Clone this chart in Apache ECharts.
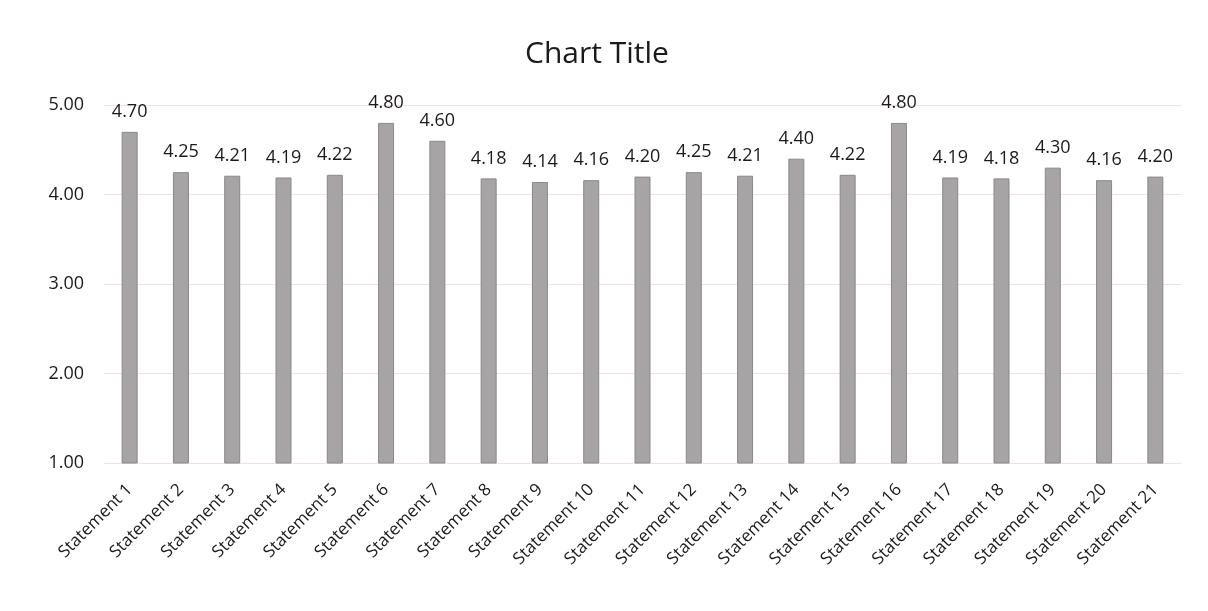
<!DOCTYPE html>
<html>
<head>
<meta charset="utf-8">
<script src="https://cdn.jsdelivr.net/npm/echarts@6/dist/echarts.min.js"></script>
<style>
html,body{margin:0;padding:0;background:#ffffff;}
#chart{width:1208px;height:611px;}
</style>
</head>
<body>
<div id="chart"></div>
<script>
const categories = ["Statement 1","Statement 2","Statement 3","Statement 4","Statement 5","Statement 6","Statement 7","Statement 8","Statement 9","Statement 10","Statement 11","Statement 12","Statement 13","Statement 14","Statement 15","Statement 16","Statement 17","Statement 18","Statement 19","Statement 20","Statement 21"];
const values = [4.70,4.25,4.21,4.19,4.22,4.80,4.60,4.18,4.14,4.16,4.20,4.25,4.21,4.40,4.22,4.80,4.19,4.18,4.30,4.16,4.20];
const yTicks = [1, 2, 3, 4, 5];

const chart = echarts.init(document.getElementById('chart'));
const font = '"Open Sans", "Liberation Sans", sans-serif';
chart.setOption({
  backgroundColor: '#ffffff',
  animation: false,
  title: {
    text: 'Chart Title',
    left: 520,
    top: 34,
    textStyle: {fontFamily: font, fontSize: 30, fontWeight: 'normal', color: '#1a1a1a'}
  },
  grid: {left: 104, right: 27, top: 105, bottom: 148},
  xAxis: {
    type: 'category',
    data: categories,
    axisLine: {show: false},
    axisTick: {show: false},
    axisLabel: {rotate: 45, interval: 0, margin: 24, fontFamily: font, fontSize: 17, color: '#1a1a1a'}
  },
  yAxis: {
    type: 'value',
    min: yTicks[0],
    max: yTicks[yTicks.length - 1],
    interval: 1,
    axisLine: {show: false},
    axisTick: {show: false},
    splitLine: {lineStyle: {color: '#f0e2e2', width: 1}},
    axisLabel: {margin: 20, fontFamily: font, fontSize: 18, color: '#1a1a1a', formatter: v => v.toFixed(2)}
  },
  series: [{
    type: 'bar',
    data: values,
    barWidth: 16,
    itemStyle: {color: '#a6a4a4', borderColor: '#8a8888', borderWidth: 1},
    label: {
      show: true,
      position: 'top',
      distance: 11,
      fontFamily: font,
      fontSize: 18,
      color: '#1a1a1a',
      formatter: p => p.value.toFixed(2)
    }
  }]
});
</script>
</body>
</html>
